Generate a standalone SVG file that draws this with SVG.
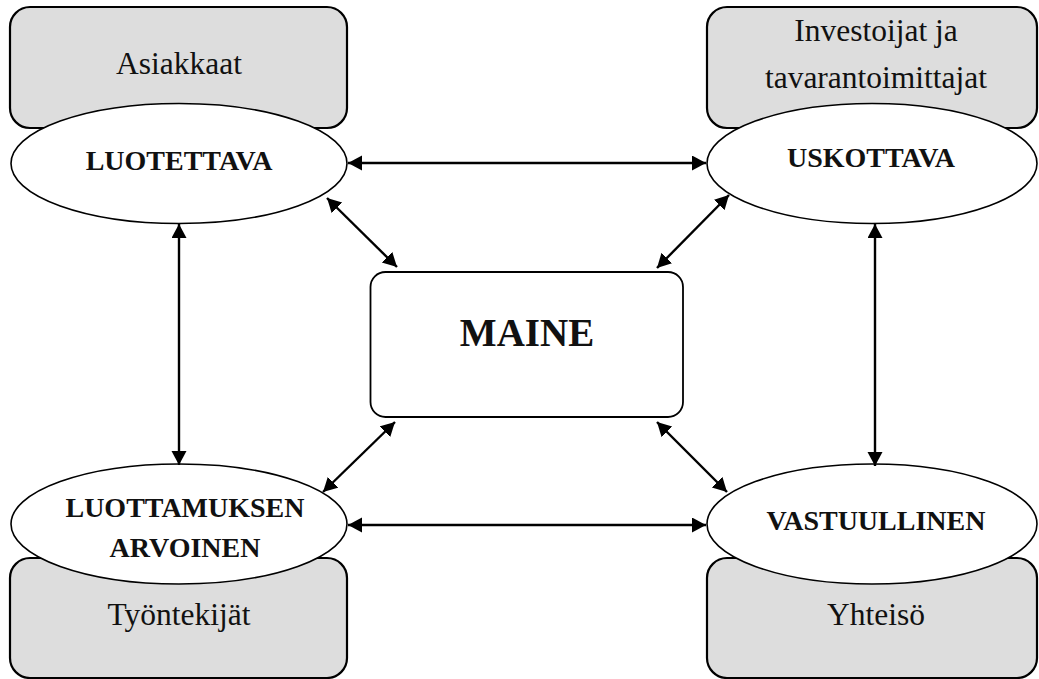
<svg xmlns="http://www.w3.org/2000/svg" width="1039" height="679" viewBox="0 0 1039 679">
  <style>
    .group-box { fill: #dddddd; stroke: #000; stroke-width: 2.2; }
    .quality { fill: #fff; stroke: #000; stroke-width: 1.6; }
    .core { fill: #fff; stroke: #000; stroke-width: 1.8; }
    .lbl { font-family: "Liberation Serif", "Times New Roman", serif; font-size: 31.5px; fill: #111; text-anchor: middle; }
    .qlbl { font-family: "Liberation Serif", "Times New Roman", serif; font-size: 28px; font-weight: bold; fill: #111; text-anchor: middle; }
    .clbl { font-family: "Liberation Serif", "Times New Roman", serif; font-size: 39px; font-weight: bold; fill: #111; text-anchor: middle; }
    .link { stroke: #000; stroke-width: 2.4; fill: none; marker-start: url(#head); marker-end: url(#head); }
  </style>
  <defs>
    <marker id="head" markerUnits="userSpaceOnUse" markerWidth="15" markerHeight="16" refX="14" refY="7.5" orient="auto-start-reverse">
      <path d="M0,0 L14,7.5 L0,15 z" fill="#000"/>
    </marker>
  </defs>

  <rect width="1039" height="679" fill="#fff"/>

  <!-- stakeholder groups -->
  <g id="asiakkaat">
    <rect class="group-box" x="10" y="7" width="337" height="121" rx="20"/>
    <text class="lbl" x="179" y="74">Asiakkaat</text>
  </g>
  <g id="investoijat">
    <rect class="group-box" x="707" y="7" width="330" height="121" rx="20"/>
    <text class="lbl" x="876" y="41">Investoijat ja</text>
    <text class="lbl" x="876" y="88">tavarantoimittajat</text>
  </g>
  <g id="tyontekijat">
    <rect class="group-box" x="10" y="558" width="337" height="120" rx="20"/>
    <text class="lbl" x="179" y="625">Työntekijät</text>
  </g>
  <g id="yhteiso">
    <rect class="group-box" x="707" y="558" width="330" height="120" rx="20"/>
    <text class="lbl" x="876" y="625">Yhteisö</text>
  </g>

  <!-- reputation qualities -->
  <g id="luotettava">
    <ellipse class="quality" cx="179" cy="163.5" rx="168" ry="60"/>
    <text class="qlbl" x="179" y="170">LUOTETTAVA</text>
  </g>
  <g id="uskottava">
    <ellipse class="quality" cx="872" cy="163.5" rx="165" ry="60"/>
    <text class="qlbl" x="871" y="167">USKOTTAVA</text>
  </g>
  <g id="luottamuksen-arvoinen">
    <ellipse class="quality" cx="179" cy="524" rx="168" ry="60"/>
    <text class="qlbl" x="185" y="517">LUOTTAMUKSEN</text>
    <text class="qlbl" x="185" y="557">ARVOINEN</text>
  </g>
  <g id="vastuullinen">
    <ellipse class="quality" cx="872" cy="524" rx="165" ry="60"/>
    <text class="qlbl" x="876" y="530">VASTUULLINEN</text>
  </g>

  <!-- centre -->
  <g id="maine">
    <rect class="core" x="370.5" y="272" width="312.5" height="145" rx="15"/>
    <text class="clbl" x="527" y="346">MAINE</text>
  </g>

  <!-- two-way links -->
  <g id="connectors">
    <line class="link" x1="348" y1="163" x2="706" y2="163"/>
    <line class="link" x1="348" y1="525" x2="706" y2="525"/>
    <line class="link" x1="179" y1="224" x2="179" y2="465"/>
    <line class="link" x1="875" y1="224" x2="875" y2="466"/>
    <line class="link" x1="327" y1="198" x2="397" y2="267"/>
    <line class="link" x1="729" y1="195" x2="657" y2="268"/>
    <line class="link" x1="395" y1="422" x2="323" y2="492"/>
    <line class="link" x1="657" y1="422" x2="727" y2="492"/>
  </g>
</svg>
